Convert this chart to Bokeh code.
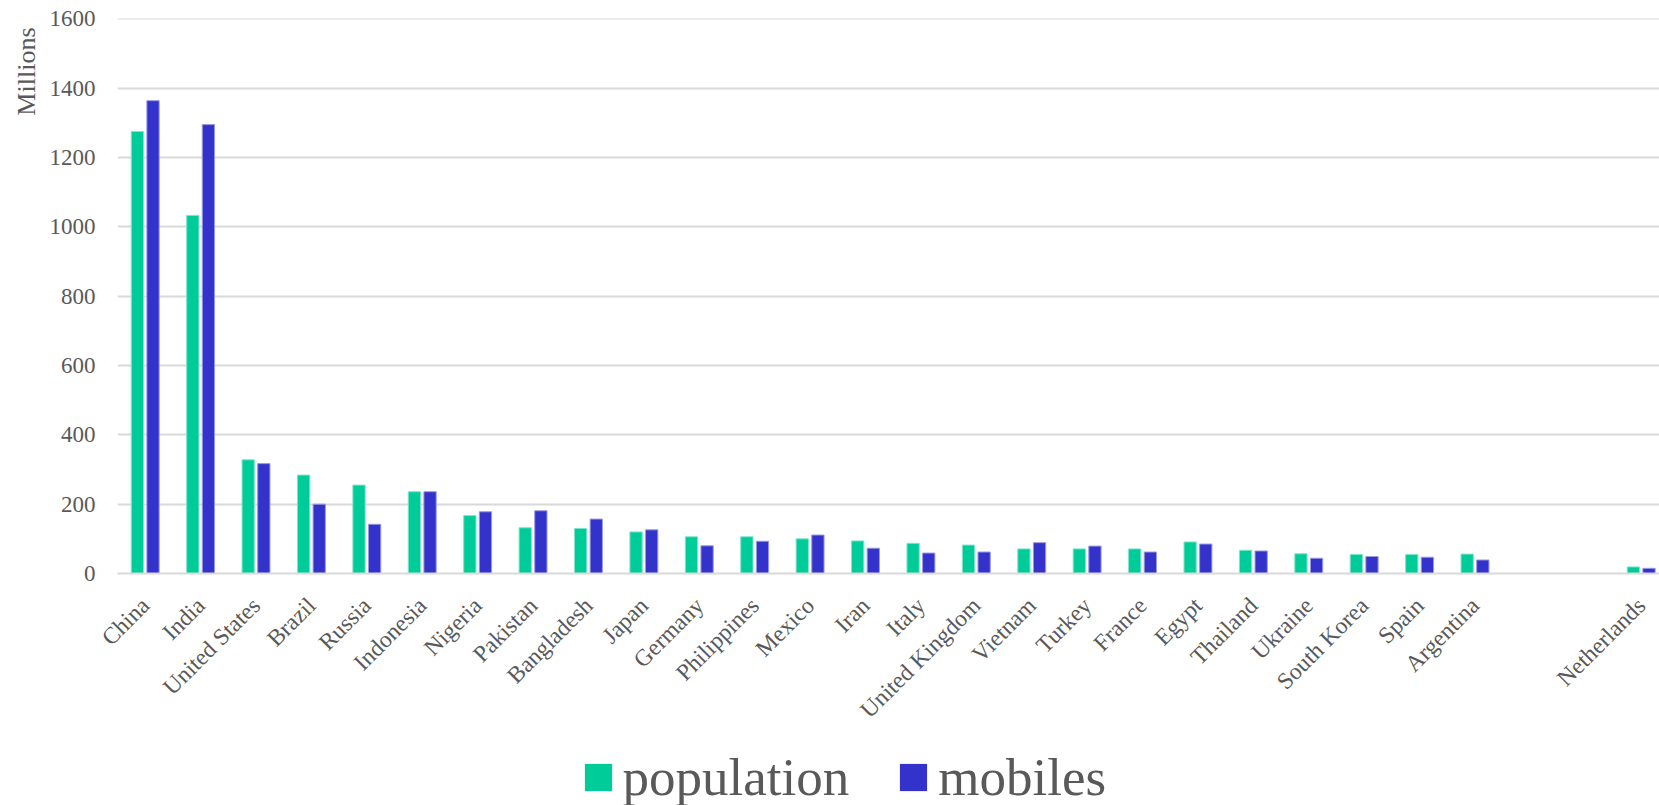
import math
import numpy as np
from bokeh.plotting import figure
from bokeh.layouts import column
from bokeh.models import (ColumnDataSource, Range1d, FixedTicker, Legend, LegendItem, Title)
from bokeh.transform import dodge
from bokeh.embed import file_html
from bokeh.resources import INLINE

countries = ["China", "India", "United States", "Brazil", "Russia", "Indonesia", "Nigeria",
             "Pakistan", "Bangladesh", "Japan", "Germany", "Philippines", "Mexico", "Iran",
             "Italy", "United Kingdom", "Vietnam", "Turkey", "France", "Egypt", "Thailand",
             "Ukraine", "South Korea", "Spain", "Argentina", "", "", "Netherlands"]
population = [1275, 1033, 328, 284, 255, 236, 167, 132, 130, 120, 106, 106, 100, 94,
              87, 82, 71, 71, 71, 91, 67, 57, 55, 55, 56, None, None, 19]
mobiles = [1364, 1295, 317, 200, 142, 236, 178, 181, 157, 126, 80, 93, 111, 73,
           59, 62, 89, 79, 62, 85, 65, 44, 49, 47, 39, None, None, 15]
y_ticks = [0, 200, 400, 600, 800, 1000, 1200, 1400, 1600]
series_names = ["population", "mobiles"]

FONT = "Liberation Serif"
TXT = "#595959"
GRID = "#d9d9d9"
POP_C = "#00cc99"
MOB_C = "#3333cc"
POP_EDGE = "#7fe5cc"
MOB_EDGE = "#9999e5"

W = 1659
H_LEG = 70
H_MAIN = 805 - H_LEG

idx = list(range(len(countries)))
src = ColumnDataSource(dict(
    x=idx,
    pop=[np.nan if v is None else v for v in population],
    mob=[np.nan if v is None else v for v in mobiles],
))

p = figure(width=W, height=H_MAIN, output_backend="svg", toolbar_location=None,
           x_range=Range1d(-0.5, 27.33), y_range=Range1d(0, 1601),
           min_border_left=117, min_border_right=0, min_border_top=18,
           min_border_bottom=H_MAIN - 573)
p.outline_line_color = None
p.background_fill_color = "white"
p.border_fill_color = "white"

p.vbar(x=dodge("x", -0.141, range=p.x_range), top="pop", width=0.222, source=src,
       fill_color=POP_C, line_color=POP_EDGE, line_width=1)
p.vbar(x=dodge("x", 0.141, range=p.x_range), top="mob", width=0.222, source=src,
       fill_color=MOB_C, line_color=MOB_EDGE, line_width=1)

# grid
p.xgrid.visible = False
p.ygrid.ticker = FixedTicker(ticks=y_ticks)
p.ygrid.grid_line_color = GRID
p.ygrid.grid_line_width = 2

# y axis
p.yaxis.ticker = FixedTicker(ticks=y_ticks)
p.yaxis.axis_line_color = None
p.yaxis.major_tick_line_color = None
p.yaxis.minor_tick_line_color = None
p.yaxis.major_tick_out = 0
p.yaxis.minor_tick_out = 0
p.yaxis.major_label_standoff = 22
p.yaxis.major_label_text_font = FONT
p.yaxis.major_label_text_font_size = "23px"
p.yaxis.major_label_text_color = TXT

# x axis
p.xaxis.ticker = FixedTicker(ticks=idx)
p.xaxis.major_label_overrides = {i: c for i, c in zip(idx, countries)}
p.xaxis.major_label_orientation = math.pi / 4
p.xaxis.axis_line_color = GRID
p.xaxis.axis_line_width = 2
p.xaxis.major_tick_line_color = None
p.xaxis.minor_tick_line_color = None
p.xaxis.major_label_standoff = 22
p.xaxis.major_label_text_font = FONT
p.xaxis.major_label_text_font_size = "23.5px"
p.xaxis.major_label_text_color = TXT

# y title at the top of the left side, like the reference
ytitle = Title(text="Millions", align="right", offset=9, standoff=12,
               text_font=FONT, text_font_size="26px", text_color=TXT,
               text_font_style="normal")
p.add_layout(ytitle, "left")

# legend strip below the chart (its renderers use the same data, drawn off-range)
pl = figure(width=W, height=H_LEG, output_backend="svg", toolbar_location=None,
            x_axis_type=None, y_axis_type=None,
            x_range=Range1d(1000, 1001), y_range=Range1d(5000, 5001),
            min_border_left=0, min_border_right=0, min_border_top=0, min_border_bottom=0)
pl.outline_line_color = None
pl.xgrid.visible = False
pl.ygrid.visible = False
lr_pop = pl.vbar(x="x", top="pop", width=0.2, source=src,
                 fill_color=POP_C, line_color=None)
lr_mob = pl.vbar(x="x", top="mob", width=0.2, source=src,
                 fill_color=MOB_C, line_color=None)
legend = Legend(items=[LegendItem(label=series_names[0], renderers=[lr_pop]),
                       LegendItem(label=series_names[1], renderers=[lr_mob])],
                orientation="horizontal", location=(463.6, -2),
                glyph_width=34, glyph_height=34, label_standoff=8, spacing=47,
                padding=0, margin=0, border_line_color=None, background_fill_alpha=0,
                label_text_font=FONT, label_text_font_size="53px", label_text_color=TXT)
pl.add_layout(legend, "center")

layout = column(p, pl, spacing=0)
open("out.html", "w").write(file_html(layout, INLINE))
